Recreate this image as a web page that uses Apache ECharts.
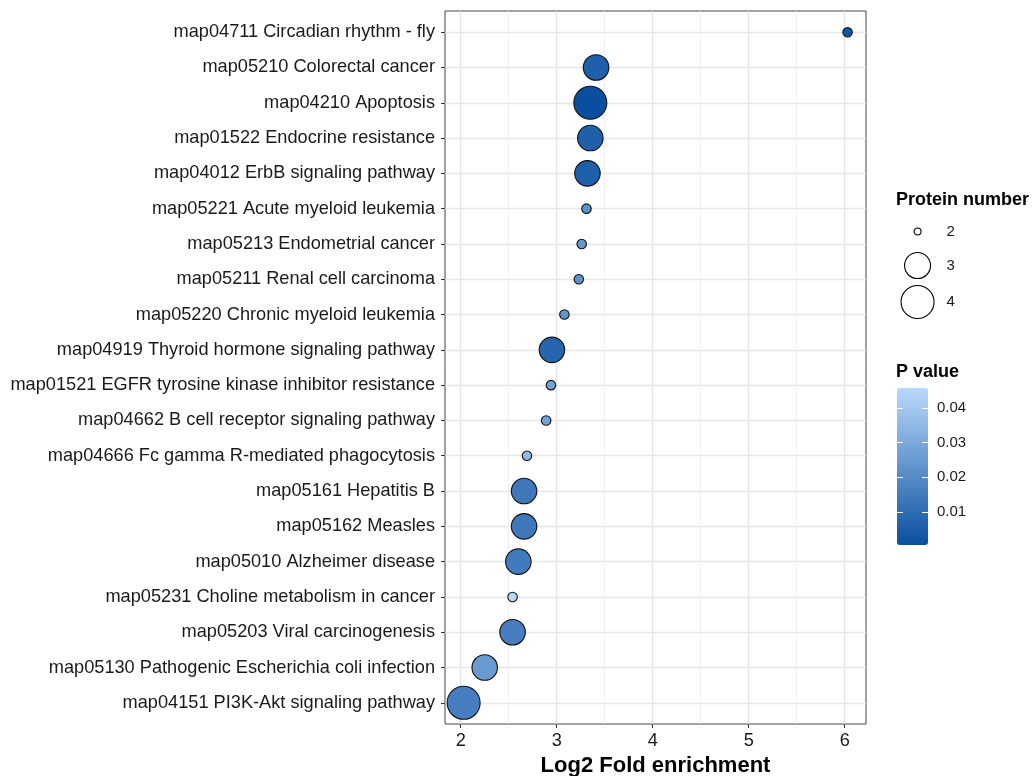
<!DOCTYPE html>
<html>
<head>
<meta charset="utf-8">
<script src="https://cdn.jsdelivr.net/npm/echarts@6/dist/echarts.min.js"></script>
<style>
html,body{margin:0;padding:0;background:#fff;}
#chart{width:1032px;height:776px;}
</style>
</head>
<body>
<div id="chart"></div>
<script>
const categories = [
  'map04711 Circadian rhythm - fly',
  'map05210 Colorectal cancer',
  'map04210 Apoptosis',
  'map01522 Endocrine resistance',
  'map04012 ErbB signaling pathway',
  'map05221 Acute myeloid leukemia',
  'map05213 Endometrial cancer',
  'map05211 Renal cell carcinoma',
  'map05220 Chronic myeloid leukemia',
  'map04919 Thyroid hormone signaling pathway',
  'map01521 EGFR tyrosine kinase inhibitor resistance',
  'map04662 B cell receptor signaling pathway',
  'map04666 Fc gamma R-mediated phagocytosis',
  'map05161 Hepatitis B',
  'map05162 Measles',
  'map05010 Alzheimer disease',
  'map05231 Choline metabolism in cancer',
  'map05203 Viral carcinogenesis',
  'map05130 Pathogenic Escherichia coli infection',
  'map04151 PI3K-Akt signaling pathway'
];
const foldEnrichment = [6.03, 3.41, 3.35, 3.35, 3.32, 3.31, 3.26, 3.23, 3.08, 2.95, 2.94, 2.89, 2.69, 2.66, 2.66, 2.60, 2.54, 2.54, 2.25, 2.03];
const pValues = [0.002, 0.006, 0.0005, 0.006, 0.006, 0.022, 0.024, 0.022, 0.023, 0.008, 0.028, 0.028, 0.035, 0.014, 0.014, 0.015, 0.0457, 0.016, 0.025, 0.016];
const proteinNumbers = [2, 3, 4, 3, 3, 2, 2, 2, 2, 3, 2, 2, 2, 3, 3, 3, 2, 3, 3, 4];
const xTickValues = [2, 3, 4, 5, 6];
const xMinorValues = [2.5, 3.5, 4.5, 5.5];
const pTickValues = [0.01, 0.02, 0.03, 0.04];
const sizeLevels = [2, 3, 4];

const FONT = '"Liberation Sans", Arial, Helvetica, sans-serif';
const pMin = 0.0005, pMax = 0.0457;
const symbolSizes = {2: 9.5, 3: 25.5, 4: 33};
const legendSizes = {2: 7, 3: 26, 4: 33};
const legendTops = {2: 224, 3: 252, 4: 285};
const legendCenterX = 917, legendTextX = 946;

const yIndex = categories.map((c, i) => i);

const series = sizeLevels.map(level => ({
  name: String(level),
  type: 'scatter',
  xAxisIndex: 0,
  yAxisIndex: 0,
  symbol: 'circle',
  symbolSize: symbolSizes[level],
  itemStyle: {borderColor: '#111', borderWidth: 1.1, opacity: 1},
  emphasis: {disabled: true},
  data: categories
    .map((c, i) => [foldEnrichment[i], yIndex[i], pValues[i], proteinNumbers[i]])
    .filter(d => d[3] === level),
  z: 3
}));

const option = {
  animation: false,
  backgroundColor: '#fff',
  textStyle: {fontFamily: FONT},
  title: [
    {text: 'Protein number', left: 896, top: 191, padding: 0,
     textStyle: {fontSize: 18, fontWeight: 'bold', color: '#000', fontFamily: FONT}},
    {text: 'P value', left: 896, top: 363, padding: 0,
     textStyle: {fontSize: 18, fontWeight: 'bold', color: '#000', fontFamily: FONT}}
  ],
  legend: sizeLevels.map(level => {
    const w = legendSizes[level];
    const left = legendCenterX - w / 2;
    const pad = legendTextX - (left + w + 5);
    return {
      data: [{name: String(level), icon: 'circle',
              itemStyle: {color: '#fff', borderColor: '#000', borderWidth: 1.1}}],
      left: left,
      top: legendTops[level],
      padding: 0,
      orient: 'vertical',
      itemWidth: w,
      itemHeight: w,
      selectedMode: false,
      textStyle: {fontSize: 15, color: '#1a1a1a', fontFamily: FONT, padding: [0, 0, 0, pad]}
    };
  }),
  visualMap: {
    type: 'continuous',
    seriesIndex: [0, 1, 2],
    dimension: 2,
    min: pMin,
    max: pMax,
    calculable: false,
    realtime: false,
    text: null,
    showLabel: false,
    left: 897,
    top: 388,
    padding: 0,
    itemWidth: 31,
    itemHeight: 157,
    inRange: {color: ['#0a4f9f', '#b9d9fb']},
    hoverLink: false
  },
  grid: [
    {left: 445, top: 11, right: 166, bottom: 52, show: true, outerBoundsMode: 'none',
     borderColor: '#444', borderWidth: 1, backgroundColor: 'transparent', z: 0},
    {left: 897, top: 388, width: 31, height: 157, show: false, outerBoundsMode: 'none'}
  ],
  xAxis: [
    {
      type: 'value', gridIndex: 0, min: 1.836, max: 6.222, position: 'bottom',
      name: 'Log2 Fold enrichment', nameLocation: 'middle', nameGap: 31,
      nameTextStyle: {fontSize: 22, fontWeight: 'bold', color: '#000', fontFamily: FONT},
      axisLine: {show: false, onZero: false},
      axisTick: {show: true, customValues: xTickValues, length: 4, lineStyle: {color: '#333', width: 1.1}},
      axisLabel: {customValues: xTickValues, fontSize: 18.2, color: '#1a1a1a', margin: 8, fontFamily: FONT},
      splitLine: {show: true, lineStyle: {color: '#e6e6e6', width: 1.4}}
    },
    {
      type: 'value', gridIndex: 0, min: 1.836, max: 6.222, position: 'bottom',
      axisLine: {show: false, onZero: false},
      axisTick: {show: false, customValues: xMinorValues},
      axisLabel: {show: false, customValues: xMinorValues},
      splitLine: {show: true, lineStyle: {color: '#efefef', width: 1}}
    },
    {type: 'value', gridIndex: 1, min: 0, max: 1, show: false}
  ],
  yAxis: [
    {
      type: 'value', gridIndex: 0, inverse: true, min: -0.6, max: 19.6,
      axisLine: {show: false, onZero: false},
      axisTick: {show: true, customValues: yIndex, length: 4, lineStyle: {color: '#333', width: 1.1}},
      axisLabel: {customValues: yIndex, formatter: v => categories[Math.round(v)] || '',
                  fontSize: 18.2, color: '#1a1a1a', margin: 10, fontFamily: FONT},
      splitLine: {show: true, lineStyle: {color: '#e6e6e6', width: 1.4}}
    },
    {
      type: 'value', gridIndex: 1, min: pMin, max: pMax, position: 'right', z: 10,
      axisLine: {show: false, onZero: false},
      axisTick: {show: true, inside: true, length: 6, customValues: pTickValues,
                 lineStyle: {color: '#fff', width: 1}},
      axisLabel: {customValues: pTickValues, formatter: v => v.toFixed(2),
                  fontSize: 15, color: '#1a1a1a', margin: 9, fontFamily: FONT},
      splitLine: {show: false}
    },
    {
      type: 'value', gridIndex: 1, min: pMin, max: pMax, position: 'left', z: 10,
      axisLine: {show: false, onZero: false},
      axisTick: {show: true, inside: true, length: 6, customValues: pTickValues,
                 lineStyle: {color: '#fff', width: 1}},
      axisLabel: {show: false, customValues: pTickValues},
      splitLine: {show: false}
    }
  ],
  series: series
};

const chart = echarts.init(document.getElementById('chart'), null, {renderer: 'canvas'});
chart.setOption(option);
</script>
</body>
</html>
